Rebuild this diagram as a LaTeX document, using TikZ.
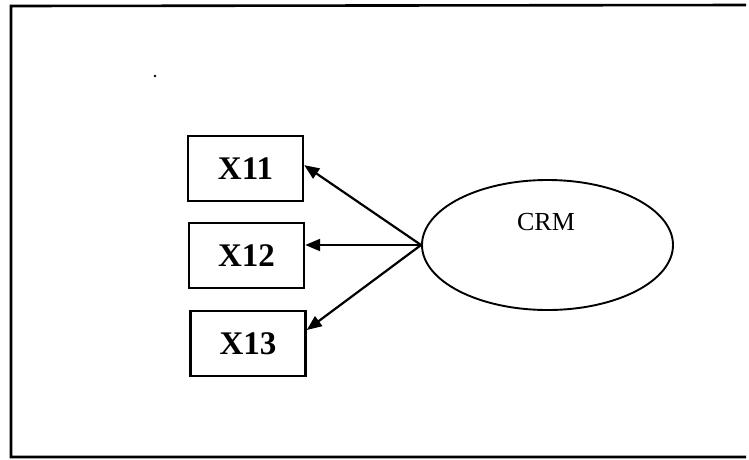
\documentclass[tikz,border=0pt]{standalone}
\usepackage{fontspec}
\setmainfont{Liberation Serif}
\usetikzlibrary{shapes.geometric,arrows.meta,calc}

\tikzset{
  frameline/.style={line width=2.6pt},
  itembox/.style={draw, line width=2.4pt, rectangle, minimum width=115pt,
    minimum height=65pt, inner sep=0pt, font=\fontsize{33}{33}\selectfont\bfseries},
  latent/.style={draw, line width=1.9pt, ellipse, minimum width=251pt,
    minimum height=130pt, inner sep=0pt},
  loading/.style={line width=2.2pt, -{Triangle[length=15pt,width=12pt]}},
}

\begin{document}
\begin{tikzpicture}[x=1pt, y=-1pt]
  \useasboundingbox (0,0) rectangle (749,459);

  % open frame: left, top and bottom rules
  \coordinate (ftl) at (11,6);
  \coordinate (fbl) at (11,457);
  \coordinate (ftr) at (746,5);
  \coordinate (fbr) at (746,457);
  \draw[frameline] (ftr) -- (ftl) -- (fbl) -- (fbr);

  % stray mark in the upper left
  \fill (155,76) circle (1.4pt);

  % indicator boxes
  \node[itembox] (x11) at (245.5,168.5) {X11};
  \node[itembox] (x12) at (246.5,255.5) {X12};
  \node[itembox] (x13) at (248,343.5) {X13};

  % latent construct
  \node[latent] (crm) at (547.5,245) {};
  \node[font=\fontsize{26}{26}\selectfont] (crmlabel) at (546,222) {CRM};

  % loadings from the construct to its indicators
  \draw[loading] (crm.west) -- ($(x11.north east)!0.45!(x11.south east)$);
  \draw[loading] (crm.west) -- (x12.east |- crm.west);
  \draw[loading] (crm.west) -- ($(x13.north east)!0.3!(x13.south east)$);
\end{tikzpicture}
\end{document}
